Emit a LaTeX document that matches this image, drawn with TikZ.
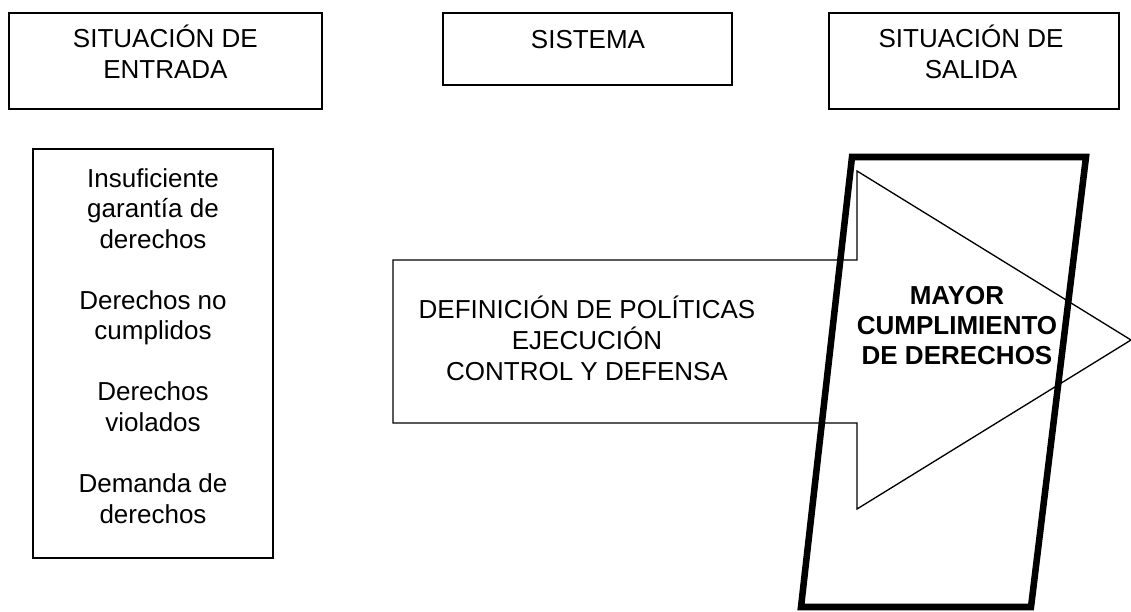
\documentclass[tikz,border=0pt]{standalone}
\usepackage{fontspec}
\setmainfont{Liberation Sans}
\begin{document}
\begin{tikzpicture}[x=0.75pt,y=-0.75pt,
  box/.style={draw,line width=1.4pt,inner sep=0pt,fill=white},
  label/.style={inner sep=0pt,align=center,font=\fontsize{19.5pt}{22.9pt}\selectfont},
  boldlabel/.style={label,font=\fontsize{19.5pt}{22.5pt}\selectfont\bfseries},
  thinline/.style={line width=1pt,line join=miter},
  thickline/.style={line width=4.9pt,line join=miter}]
\useasboundingbox (0,0) rectangle (1131,611);
% top boxes
\node[box,minimum width=235pt,minimum height=72pt] (entrada) at (165.4,61) {};
\node[label,anchor=base] (entradaT) at (165.4,78) {SITUACIÓN DE\\ENTRADA};
\node[box,minimum width=216.75pt,minimum height=54pt] (sistema) at (587.5,49) {};
\node[label,anchor=base] (sistemaT) at (588,48) {SISTEMA};
\node[box,minimum width=217.5pt,minimum height=72pt] (salida) at (974,61) {};
\node[label,anchor=base] (salidaT) at (971,78) {SITUACIÓN DE\\SALIDA};
% left box
\node[box,minimum width=180pt,minimum height=306.75pt] (izq) at (153,353.5) {};
\node[label,anchor=base] (izqT) at (153,523) {Insuficiente\\garantía de\\derechos\\[22.9pt]Derechos no\\cumplidos\\[22.9pt]Derechos\\violados\\[22.9pt]Demanda de\\derechos};
% arrow
\coordinate (aTL) at (393,260);
\coordinate (aN1) at (857,260);
\coordinate (aH1) at (857,171);
\coordinate (aTip) at (1131,340);
\coordinate (aH2) at (857,509);
\coordinate (aN2) at (857,423);
\coordinate (aBL) at (393,423);
\draw[thinline,fill=white] (aTL) -- (aN1) -- (aH1) -- (aTip) -- (aH2) -- (aN2) -- (aBL) -- cycle;
\node[label,anchor=base] (sisT) at (587,380) {DEFINICIÓN DE POLÍTICAS\\EJECUCIÓN\\CONTROL Y DEFENSA};
% parallelogram
\coordinate (pTL) at (852,157);
\coordinate (pTR) at (1086,157);
\coordinate (pBR) at (1031,607);
\coordinate (pBL) at (801,607);
\draw[thickline] (pTL) -- (pTR) -- (pBR) -- (pBL) -- cycle;
\node[boldlabel,anchor=base] (mayorT) at (957,364) {MAYOR\\CUMPLIMIENTO\\DE DERECHOS};
\end{tikzpicture}
\end{document}
